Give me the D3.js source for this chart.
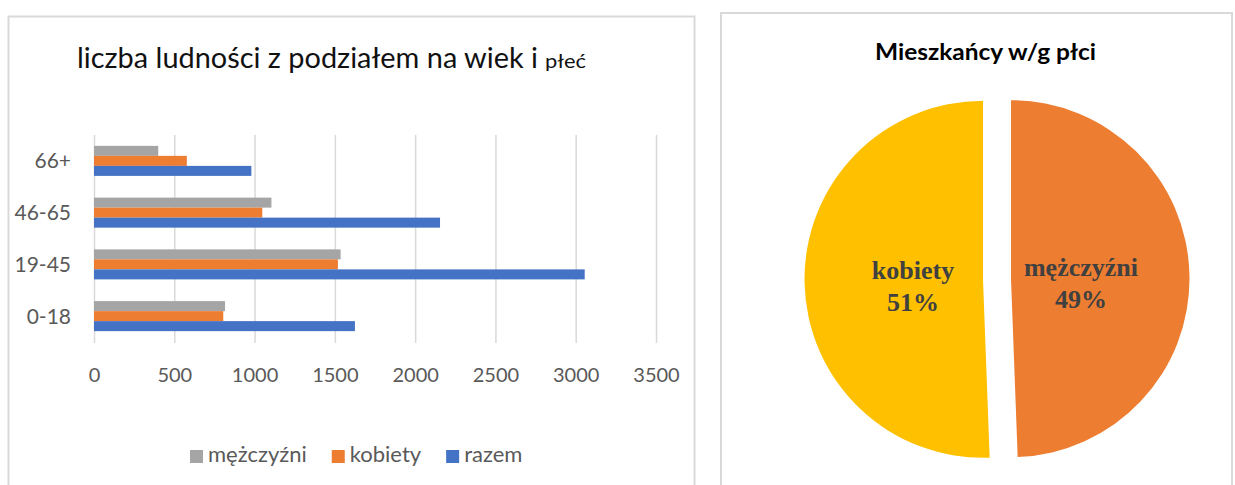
<!DOCTYPE html>
<html>
<head>
<meta charset="utf-8">
<script src="https://cdn.jsdelivr.net/npm/d3@7"></script>
<style>
  body { margin: 0; background: #fff; }
  svg { display: block; }
</style>
</head>
<body>
<script>
// bar chart data
const categories = ["0-18", "19-45", "46-65", "66+"];
const seriesNames = ["mężczyźni", "kobiety", "razem"];
const men = [816, 1536, 1105, 400];
const women = [805, 1519, 1048, 578];
const total = [1625, 3056, 2155, 980];
const xTicks = [0, 500, 1000, 1500, 2000, 2500, 3000, 3500];

// pie data
const pieLabels = ["mężczyźni", "kobiety"];
const pieValues = [3857, 3950];

const colors = {"mężczyźni": "#A5A5A5", "kobiety": "#ED7D31", "razem": "#4472C4"};
const pieColors = ["#ED7D31", "#FFC000"];

const W = 1235, H = 485;
const svg = d3.select("body").append("svg")
    .attr("width", W)
    .attr("height", H);

// panel frames
svg.append("rect")
    .attr("x", 8.5).attr("y", 16.5)
    .attr("width", 686).attr("height", 480)
    .attr("fill", "none").attr("stroke", "#d9d9d9").attr("stroke-width", 2);
svg.append("rect")
    .attr("x", 721).attr("y", 13)
    .attr("width", 511).attr("height", 480)
    .attr("fill", "none").attr("stroke", "#d9d9d9").attr("stroke-width", 2);

// ---------- bar chart ----------
const font = "Lato, 'Open Sans', sans-serif";

svg.append("text")
    .attr("x", 77).attr("y", 68)
    .attr("font-family", font)
    .attr("font-size", 28.5)
    .attr("fill", "#111")
    .attr("textLength", 461)
    .attr("lengthAdjust", "spacingAndGlyphs")
    .text("liczba ludności z podziałem na wiek i");
svg.append("text")
    .attr("x", 545).attr("y", 68)
    .attr("font-family", font)
    .attr("font-size", 20)
    .attr("fill", "#111")
    .attr("textLength", 41)
    .attr("lengthAdjust", "spacingAndGlyphs")
    .text("płeć");

var x = d3.scaleLinear().domain([0, 3500]).range([94, 656]);
var y = d3.scaleBand()
    .domain(categories.slice().reverse())
    .range([135, 342])
    .paddingInner(0.42)
    .paddingOuter(0.21);
var ySub = d3.scaleBand().domain(seriesNames).range([0, y.bandwidth()]);

// gridlines + x labels
var xAxis = d3.axisBottom(x)
    .tickValues(xTicks)
    .tickFormat(d3.format("d"))
    .tickSize(-208)
    .tickPadding(0);
var gx = svg.append("g")
    .attr("transform", "translate(0,343)")
    .call(xAxis);
gx.select(".domain").remove();
gx.selectAll(".tick line").attr("stroke", "#d9d9d9").attr("stroke-width", 1.5);
gx.selectAll(".tick text")
    .attr("y", 39).attr("dy", 0)
    .attr("font-family", font)
    .attr("font-size", 20)
    .attr("fill", "#595959");

// y labels
var gy = svg.append("g")
    .attr("transform", "translate(94,0)")
    .call(d3.axisLeft(y).tickSize(0).tickPadding(23));
gy.select(".domain").remove();
gy.selectAll(".tick text")
    .attr("dy", "0.36em")
    .attr("font-family", font)
    .attr("font-size", 21)
    .attr("fill", "#595959");

const seriesData = {"mężczyźni": men, "kobiety": women, "razem": total};
categories.forEach((c, i) => {
    var g = svg.append("g").attr("transform", "translate(0," + y(c) + ")");
    g.selectAll("rect")
        .data(seriesNames)
        .enter()
        .append("rect")
        .attr("x", x(0))
        .attr("y", s => ySub(s))
        .attr("width", s => x(seriesData[s][i]) - x(0))
        .attr("height", ySub.bandwidth())
        .attr("fill", s => colors[s]);
});

// legend
var lx = 190;
var legend = svg.append("g");
seriesNames.forEach(s => {
    legend.append("rect")
        .attr("x", lx).attr("y", 450)
        .attr("width", 13).attr("height", 13)
        .attr("fill", colors[s]);
    var t = legend.append("text")
        .attr("x", lx + 18).attr("y", 461.5)
        .attr("font-family", font)
        .attr("font-size", 22)
        .attr("fill", "#595959")
        .text(s);
    lx += 18 + t.node().getComputedTextLength() + 25;
});

// ---------- pie chart ----------
svg.append("text")
    .attr("x", 875).attr("y", 60)
    .attr("font-family", font)
    .attr("font-size", 23)
    .attr("font-weight", "bold")
    .attr("fill", "#000")
    .attr("textLength", 221)
    .attr("lengthAdjust", "spacingAndGlyphs")
    .text("Mieszkańcy w/g płci");

const cx = 997, cy = 279, r = 178.5, explode = 14, labelR = 70;
var pie = d3.pie().sort(null);
var arc = d3.arc().innerRadius(0).outerRadius(r);
var fmt = d3.format(".0%");
var sum = d3.sum(pieValues);

var slices = svg.append("g")
    .attr("transform", "translate(" + cx + "," + cy + ")")
    .selectAll("g")
    .data(pie(pieValues))
    .enter()
    .append("g")
    .attr("transform", d => {
        var a = (d.startAngle + d.endAngle) / 2;
        return "translate(" + (Math.sin(a) * explode) + "," + (-Math.cos(a) * explode) + ")";
    });

slices.append("path")
    .attr("d", arc)
    .attr("fill", (d, i) => pieColors[i]);

slices.each(function(d, i) {
    var a = (d.startAngle + d.endAngle) / 2;
    var px = Math.sin(a) * labelR, py = -Math.cos(a) * labelR;
    var t = d3.select(this).append("text")
        .attr("text-anchor", "middle")
        .attr("font-family", "'Liberation Serif', 'Times New Roman', serif")
        .attr("font-weight", "bold")
        .attr("font-size", 26)
        .attr("fill", "#404040");
    t.append("tspan").attr("x", px).attr("y", py - 1.5).text(pieLabels[i]);
    t.append("tspan").attr("x", px).attr("y", py + 30.5).text(fmt(d.value / sum));
});
</script>
</body>
</html>
